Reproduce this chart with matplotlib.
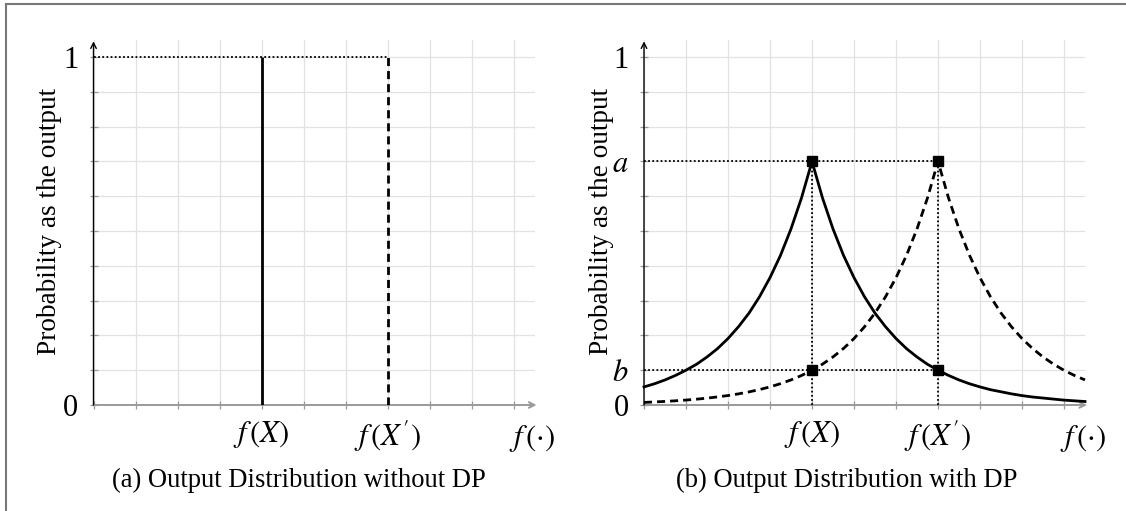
import matplotlib
matplotlib.use("Agg")
import matplotlib.pyplot as plt
from matplotlib.lines import Line2D

plt.rcParams['font.family'] = ['Liberation Serif', 'DejaVu Serif']
plt.rcParams['mathtext.fontset'] = 'stix'

# ---------------- data ----------------
x_grid = list(range(0, 11))
y_grid = [0.0, 0.1, 0.2, 0.3, 0.4, 0.5, 0.6, 0.7, 0.8, 0.9, 1.0]
fX = 4
fXp = 7
x_tick_labels = {4: r'$f\,(X)$', 7: r"$f\,(X^{\prime})$"}
axis_label_x = r'$f\,(\cdot)$'

# panel (a): point mass
prob_a = 1.0
ytick_a = [0.0, 1.0]
ytick_a_labels = ['0', '1']

# panel (b): Laplace-like output densities
peak_a = 0.70
level_b = 0.10
ytick_b = [0.0, level_b, peak_a, 1.0]
ytick_b_labels = ['0', r'$b$', r'$a$', '1']
curve_x = [i * 0.25 for i in range(43)]
curve_solid = [0.052, 0.061, 0.072, 0.085, 0.100, 0.117, 0.138, 0.162, 0.191, 0.225,
               0.264, 0.311, 0.366, 0.430, 0.506, 0.595, 0.700, 0.595, 0.506, 0.430,
               0.366, 0.311, 0.264, 0.225, 0.191, 0.162, 0.138, 0.117, 0.100, 0.085,
               0.072, 0.061, 0.052, 0.044, 0.038, 0.032, 0.027, 0.023, 0.020, 0.017,
               0.014, 0.012, 0.010]
curve_dashed = [0.0074, 0.0088, 0.0103, 0.0121, 0.0142, 0.0167, 0.0197, 0.0232, 0.0272,
                0.0320, 0.0377, 0.0443, 0.0521, 0.0613, 0.0721, 0.0848, 0.0998, 0.1174,
                0.1381, 0.1624, 0.1910, 0.2247, 0.2643, 0.3109, 0.3657, 0.4301, 0.5059,
                0.5951, 0.7000, 0.5951, 0.5059, 0.4301, 0.3657, 0.3109, 0.2643, 0.2247,
                0.1910, 0.1624, 0.1381, 0.1174, 0.0998, 0.0848, 0.0721]

caption_a = '(a) Output Distribution without DP'
caption_b = '(b) Output Distribution with DP'
ylabel = 'Probability as the output'

# ---------------- figure ----------------
W, H = 1126, 511
fig = plt.figure(figsize=(W / 100, H / 100), dpi=100)

XMAX, YMAX = 10.5, 1.05
LW = 2.0
DOT = (0, (1, 1.3))
DOTLW = 1.3
DASH = (0, (2.9, 1.8))
GRAY = '#9a9a9a'
TICKFS = 22


def setup(ax, yticks, ylabels):
    ax.set_xlim(0, XMAX)
    ax.set_ylim(0, YMAX)
    for s in ax.spines.values():
        s.set_visible(False)
    ax.set_xticks(x_grid)
    ax.set_xticklabels([x_tick_labels.get(v, '') for v in x_grid], fontsize=TICKFS)
    ax.set_yticks(y_grid)
    ylab = []
    for v in y_grid:
        lab = ''
        for t, l in zip(yticks, ylabels):
            if abs(t - v) < 1e-9:
                lab = l
        ylab.append(lab)
    ax.set_yticklabels(ylab, fontsize=TICKFS)
    ax.tick_params(direction='inout', length=6, width=0.9, color=GRAY)
    ax.tick_params(axis='x', pad=7)
    ax.tick_params(axis='y', pad=8)
    ax.grid(True, color='#e2e2e2', lw=0.9, zorder=0)
    ax.set_axisbelow(True)
    # axes lines with arrows
    ax.annotate('', xy=(XMAX + 0.05, 0), xytext=(0, 0),
                arrowprops=dict(arrowstyle='->', color=GRAY, lw=1.4,
                                shrinkA=0, shrinkB=0), annotation_clip=False, zorder=2)
    ax.annotate('', xy=(0, YMAX - 0.005), xytext=(0, 0),
                arrowprops=dict(arrowstyle='->', color='black', lw=1.0,
                                shrinkA=0, shrinkB=0), annotation_clip=False, zorder=3)
    ax.text(10.45, -0.095, axis_label_x, fontsize=TICKFS, ha='center', va='center',
            clip_on=False)


ax_a = fig.add_axes([93.5 / W, 106 / H, 441 / W, 365.4 / H])
ax_b = fig.add_axes([644 / W, 106 / H, 441 / W, 365.4 / H])

# panel (a)
setup(ax_a, ytick_a, ytick_a_labels)
ax_a.plot([0, fXp], [prob_a, prob_a], color='black', lw=DOTLW, linestyle=DOT, zorder=4)
ax_a.plot([fX, fX], [0, prob_a], color='black', lw=LW, zorder=5, solid_capstyle='butt')
ax_a.plot([fXp, fXp], [0, prob_a], color='black', lw=LW, linestyle=DASH, zorder=5)

# panel (b)
setup(ax_b, ytick_b, ytick_b_labels)
ax_b.plot([0, fXp], [peak_a, peak_a], color='black', lw=DOTLW, linestyle=DOT, zorder=4)
ax_b.plot([0, fXp], [level_b, level_b], color='black', lw=DOTLW, linestyle=DOT, zorder=4)
ax_b.plot([fX, fX], [0, peak_a], color='black', lw=DOTLW, linestyle=DOT, zorder=4)
ax_b.plot([fXp, fXp], [0, peak_a], color='black', lw=DOTLW, linestyle=DOT, zorder=4)
ax_b.plot(curve_x, curve_solid, color='black', lw=LW, zorder=5, clip_on=False)
ax_b.plot(curve_x, curve_dashed, color='black', lw=LW, linestyle=DASH, zorder=5,
          clip_on=False)
ax_b.plot([fX, fXp, fX, fXp], [peak_a, peak_a, level_b, level_b], linestyle='none',
          marker='s', markersize=7, color='black', zorder=6)

# labels and captions
for xc in (50, 601):
    fig.text(xc / W, 1 - 221.5 / H, ylabel, rotation=90, fontsize=19.6,
             ha='center', va='center')
fig.text(299 / W, 1 - 480 / H, caption_a, fontsize=19.2, ha='center', va='center')
fig.text(846.5 / W, 1 - 480 / H, caption_b, fontsize=19.2, ha='center', va='center')

# outer frame (top and left)
fig.add_artist(Line2D([6 / W, 1], [1 - 4 / H, 1 - 4 / H], color='#777777', lw=1.5,
                      transform=fig.transFigure))
fig.add_artist(Line2D([6 / W, 6 / W], [0, 1 - 4 / H], color='#777777', lw=1.5,
                      transform=fig.transFigure))

fig.savefig('out.png', dpi=100)
